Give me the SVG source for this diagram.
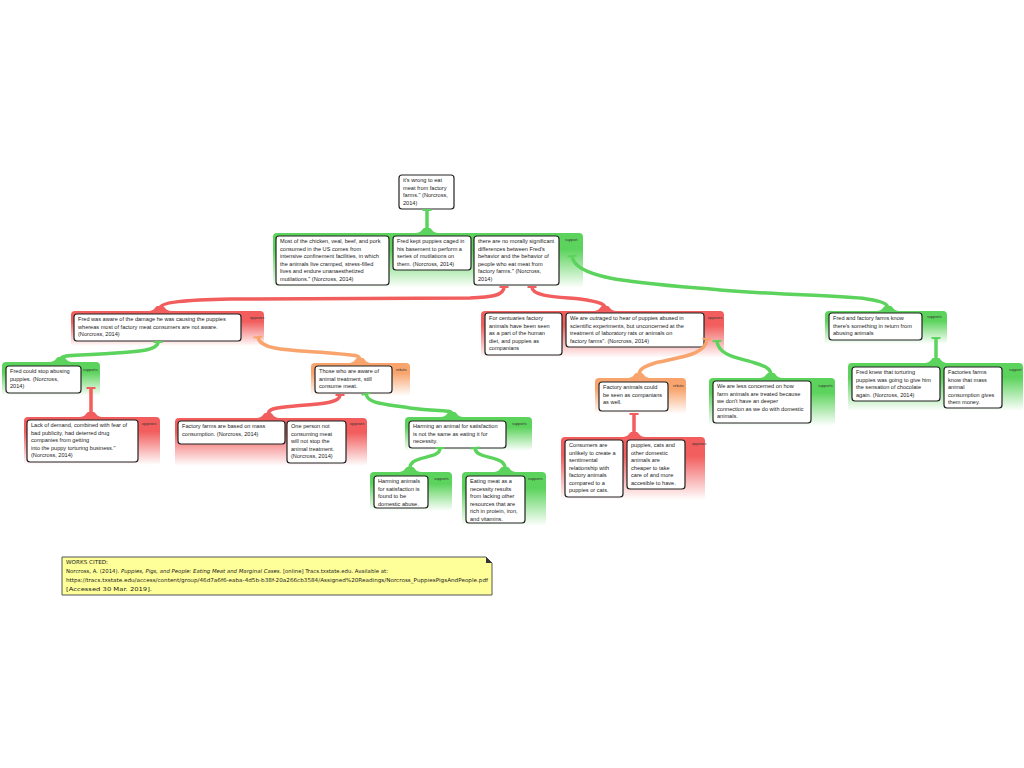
<svg xmlns="http://www.w3.org/2000/svg" width="1024" height="768" viewBox="0 0 1024 768">
<defs>
<linearGradient id="gG" x1="0" y1="0" x2="0" y2="1"><stop offset="0" stop-color="#5cd35c"/><stop offset="0.3" stop-color="#5cd35c"/><stop offset="1" stop-color="#ffffff"/></linearGradient>
<linearGradient id="gR" x1="0" y1="0" x2="0" y2="1"><stop offset="0" stop-color="#f25d5d"/><stop offset="0.3" stop-color="#f25d5d"/><stop offset="1" stop-color="#ffffff"/></linearGradient>
<linearGradient id="gO" x1="0" y1="0" x2="0" y2="1"><stop offset="0" stop-color="#f8a46c"/><stop offset="0.3" stop-color="#f8a46c"/><stop offset="1" stop-color="#ffffff"/></linearGradient>
<marker id="bG" markerUnits="userSpaceOnUse" markerWidth="12" markerHeight="12" refX="0" refY="0" viewBox="-6 -6 12 12" orient="auto"><path d="M0,-4.5 L0,4.5" stroke="#5cd35c" stroke-width="2"/></marker>
<marker id="bR" markerUnits="userSpaceOnUse" markerWidth="12" markerHeight="12" refX="0" refY="0" viewBox="-6 -6 12 12" orient="auto"><path d="M0,-4.5 L0,4.5" stroke="#f25d5d" stroke-width="2"/></marker>
<marker id="bO" markerUnits="userSpaceOnUse" markerWidth="12" markerHeight="12" refX="0" refY="0" viewBox="-6 -6 12 12" orient="auto"><path d="M0,-4.5 L0,4.5" stroke="#f8a46c" stroke-width="2"/></marker>
</defs>
<style>
.box{fill:#fff;stroke:#222;stroke-width:1.2}
.t{font-family:"Liberation Sans",Arial,sans-serif;font-size:5.6px;fill:#222}
.lbl{font-family:"Liberation Sans",Arial,sans-serif;font-size:3.8px;fill:#333}
.cG{fill:none;stroke:#5cd35c;stroke-width:3.5;marker-start:url(#bG)}
.cR{fill:none;stroke:#f25d5d;stroke-width:3.5;marker-start:url(#bR)}
.cO{fill:none;stroke:#f8a46c;stroke-width:3.5;marker-start:url(#bO)}
.tG{fill:#5cd35c}.tR{fill:#f25d5d}.tO{fill:#f8a46c}
.note{font-family:"DejaVu Sans",sans-serif;font-size:5.4px;fill:#222}
</style>
<rect width="1024" height="768" fill="#fff"/>

<g id="n0">
<rect class="box" x="399" y="175" width="55" height="34" rx="3"/>
<text class="t" x="403" y="182.3"><tspan x="403">it's wrong to eat</tspan><tspan x="403" dy="7.5">meat from factory</tspan><tspan x="403" dy="7.5">farms." (Norcross,</tspan><tspan x="403" dy="7.5">2014)</tspan></text>
</g>

<g id="g1">
<rect x="273" y="233" width="310" height="55" rx="4" fill="url(#gG)"/>
<path class="tG" d="M416 233 C421 233,422 229,424 228 L430 228 C432 229,433 233,438 233 Z"/>
<text class="lbl" x="565" y="241">support</text>
<rect class="box" x="276" y="236" width="113" height="49" rx="3"/>
<text class="t" x="280" y="243.3"><tspan x="280">Most of the chicken, veal, beef, and pork</tspan><tspan x="280" dy="7.5">consumed in the US comes from</tspan><tspan x="280" dy="7.5">intensive confinement facilities, in which</tspan><tspan x="280" dy="7.5">the animals live cramped, stress-filled</tspan><tspan x="280" dy="7.5">lives and endure unanaesthetized</tspan><tspan x="280" dy="7.5">mutilations." (Norcross, 2014)</tspan></text>
<rect class="box" x="393" y="236" width="78" height="34" rx="3"/>
<text class="t" x="397" y="243.3"><tspan x="397">Fred kept puppies caged in</tspan><tspan x="397" dy="7.5">his basement to perform a</tspan><tspan x="397" dy="7.5">series of mutilations on</tspan><tspan x="397" dy="7.5">them. (Norcross, 2014)</tspan></text>
<rect class="box" x="474" y="236" width="85" height="49" rx="3"/>
<text class="t" x="478" y="243.3"><tspan x="478">there are no morally significant</tspan><tspan x="478" dy="7.5">differences between Fred's</tspan><tspan x="478" dy="7.5">behavior and the behavior of</tspan><tspan x="478" dy="7.5">people who eat meat from</tspan><tspan x="478" dy="7.5">factory farms." (Norcross,</tspan><tspan x="478" dy="7.5">2014)</tspan></text>
</g>

<g id="g2">
<rect x="71" y="311" width="193" height="35" rx="4" fill="url(#gR)"/>
<path class="tR" d="M149 311 C154 311,155 307,157 306 L163 306 C165 307,166 311,171 311 Z"/>
<text class="lbl" x="250" y="319">opposes</text>
<rect class="box" x="74" y="314" width="167" height="27" rx="3"/>
<text class="t" x="78" y="321.3"><tspan x="78">Fred was aware of the damage he was causing the puppies</tspan><tspan x="78" dy="7.5">whereas most of factory meat consumers are not aware.</tspan><tspan x="78" dy="7.5">(Norcross, 2014)</tspan></text>
</g>

<g id="g3">
<rect x="481" y="311" width="243" height="47" rx="4" fill="url(#gR)"/>
<path class="tR" d="M594 311 C599 311,600 307,602 306 L608 306 C610 307,611 311,616 311 Z"/>
<text class="lbl" x="708" y="319">opposes</text>
<rect class="box" x="485" y="313" width="77" height="42" rx="3"/>
<text class="t" x="489" y="320.3"><tspan x="489">For centuaries factory</tspan><tspan x="489" dy="7.5">animals have been seen</tspan><tspan x="489" dy="7.5">as a part of the human</tspan><tspan x="489" dy="7.5">diet, and puppies as</tspan><tspan x="489" dy="7.5">companians</tspan></text>
<rect class="box" x="566" y="313" width="138" height="34" rx="3"/>
<text class="t" x="570" y="320.3"><tspan x="570">We are outraged to hear of puppies abused in</tspan><tspan x="570" dy="7.5">scientific experiments, but unconcerned at the</tspan><tspan x="570" dy="7.5">treatment of laboratory rats or animals on</tspan><tspan x="570" dy="7.5">factory farms". (Norcross, 2014)</tspan></text>
</g>

<g id="g4">
<rect x="825" y="311" width="122" height="33" rx="4" fill="url(#gG)"/>
<path class="tG" d="M877 311 C882 311,883 307,885 306 L891 306 C893 307,894 311,899 311 Z"/>
<text class="lbl" x="927" y="318">supports</text>
<rect class="box" x="829" y="313" width="93" height="27" rx="3"/>
<text class="t" x="833" y="320.3"><tspan x="833">Fred and factory farms know</tspan><tspan x="833" dy="7.5">there's something in return from</tspan><tspan x="833" dy="7.5">abusing animals</tspan></text>
</g>

<g id="g5">
<rect x="2" y="362" width="98" height="34" rx="4" fill="url(#gG)"/>
<path class="tG" d="M50 362 C55 362,56 358,58 357 L64 357 C66 358,67 362,72 362 Z"/>
<text class="lbl" x="83" y="371">supports</text>
<rect class="box" x="6" y="366" width="75" height="27" rx="3"/>
<text class="t" x="10" y="373.3"><tspan x="10">Fred could stop abusing</tspan><tspan x="10" dy="7.5">puppies. (Norcross,</tspan><tspan x="10" dy="7.5">2014)</tspan></text>
</g>

<g id="g6">
<rect x="24" y="417" width="136" height="48" rx="4" fill="url(#gR)"/>
<path class="tR" d="M80 417 C85 417,86 413,88 412 L94 412 C96 413,97 417,102 417 Z"/>
<text class="lbl" x="142" y="425">opposes</text>
<rect class="box" x="27" y="420" width="111" height="42" rx="3"/>
<text class="t" x="31" y="427.3"><tspan x="31">Lack of demand, combined with fear of</tspan><tspan x="31" dy="7.5">bad publicity, had deterred drug</tspan><tspan x="31" dy="7.5">companies from getting</tspan><tspan x="31" dy="7.5">into the puppy torturing business."</tspan><tspan x="31" dy="7.5">(Norcross, 2014)</tspan></text>
</g>

<g id="g7">
<rect x="311" y="363" width="99" height="33" rx="4" fill="url(#gO)"/>
<path class="tO" d="M349 363 C354 363,355 359,357 358 L363 358 C365 359,366 363,371 363 Z"/>
<text class="lbl" x="396" y="371">rebuts</text>
<rect class="box" x="315" y="366" width="77" height="27" rx="3"/>
<text class="t" x="319" y="373.3"><tspan x="319">Those who are aware of</tspan><tspan x="319" dy="7.5">animal treatment, still</tspan><tspan x="319" dy="7.5">consume meat.</tspan></text>
</g>

<g id="g8">
<rect x="175" y="418" width="192" height="48" rx="4" fill="url(#gR)"/>
<path class="tR" d="M257 418 C262 418,263 414,265 413 L271 413 C273 414,274 418,279 418 Z"/>
<text class="lbl" x="350" y="425">opposes</text>
<rect class="box" x="178" y="421" width="107" height="23" rx="3"/>
<text class="t" x="182" y="428.3"><tspan x="182">Factory farms are based on mass</tspan><tspan x="182" dy="7.5">consumption. (Norcross, 2014)</tspan></text>
<rect class="box" x="287" y="421" width="59" height="42" rx="3"/>
<text class="t" x="291" y="428.3"><tspan x="291">One person not</tspan><tspan x="291" dy="7.5">consuming meat</tspan><tspan x="291" dy="7.5">will not stop the</tspan><tspan x="291" dy="7.5">animal treatment.</tspan><tspan x="291" dy="7.5">(Norcross, 2014)</tspan></text>
</g>

<g id="g9">
<rect x="405" y="417" width="127" height="34" rx="4" fill="url(#gG)"/>
<path class="tG" d="M441 417 C446 417,447 413,449 412 L455 412 C457 413,458 417,463 417 Z"/>
<text class="lbl" x="512" y="425">supports</text>
<rect class="box" x="409" y="421" width="97" height="27" rx="3"/>
<text class="t" x="413" y="428.3"><tspan x="413">Harming an animal for satisfaction</tspan><tspan x="413" dy="7.5">is not the same as eating it for</tspan><tspan x="413" dy="7.5">necessity.</tspan></text>
</g>

<g id="g10">
<rect x="370" y="472" width="82" height="39" rx="4" fill="url(#gG)"/>
<path class="tG" d="M399 472 C404 472,405 468,407 467 L413 467 C415 468,416 472,421 472 Z"/>
<text class="lbl" x="434" y="480">supports</text>
<rect class="box" x="374" y="476" width="54" height="32" rx="3"/>
<text class="t" x="378" y="483.3"><tspan x="378">Harming animals</tspan><tspan x="378" dy="7.5">for satisfaction is</tspan><tspan x="378" dy="7.5">found to be</tspan><tspan x="378" dy="7.5">domestic abuse.</tspan></text>
</g>

<g id="g11">
<rect x="462" y="472" width="84" height="54" rx="4" fill="url(#gG)"/>
<path class="tG" d="M494 472 C499 472,500 468,502 467 L508 467 C510 468,511 472,516 472 Z"/>
<text class="lbl" x="528" y="480">supports</text>
<rect class="box" x="466" y="476" width="59" height="47" rx="3"/>
<text class="t" x="470" y="483.3"><tspan x="470">Eating meat as a</tspan><tspan x="470" dy="7.5">necessity results</tspan><tspan x="470" dy="7.5">from lacking other</tspan><tspan x="470" dy="7.5">resources that are</tspan><tspan x="470" dy="7.5">rich in protein, iron,</tspan><tspan x="470" dy="7.5">and vitamins.</tspan></text>
</g>

<g id="g12">
<rect x="595" y="378" width="91" height="36" rx="4" fill="url(#gO)"/>
<path class="tO" d="M628 378 C633 378,634 374,636 373 L642 373 C644 374,645 378,650 378 Z"/>
<text class="lbl" x="673" y="387">rebuts</text>
<rect class="box" x="599" y="382" width="69" height="29" rx="3"/>
<text class="t" x="603" y="389.3"><tspan x="603">Factory animals could</tspan><tspan x="603" dy="7.5">be seen as companians</tspan><tspan x="603" dy="7.5">as well.</tspan></text>
</g>

<g id="g13">
<rect x="709" y="378" width="126" height="48" rx="4" fill="url(#gG)"/>
<path class="tG" d="M760 378 C765 378,766 374,768 373 L774 373 C776 374,777 378,782 378 Z"/>
<text class="lbl" x="818" y="387">supports</text>
<rect class="box" x="713" y="381" width="98" height="42" rx="3"/>
<text class="t" x="717" y="388.3"><tspan x="717">We are less concerned on how</tspan><tspan x="717" dy="7.5">farm animals are treated because</tspan><tspan x="717" dy="7.5">we don't have an deeper</tspan><tspan x="717" dy="7.5">connection as we do with domestic</tspan><tspan x="717" dy="7.5">animals.</tspan></text>
</g>

<g id="g14">
<rect x="561" y="437" width="144" height="63" rx="4" fill="url(#gR)"/>
<path class="tR" d="M623 437 C628 437,629 433,631 432 L637 432 C639 433,640 437,645 437 Z"/>
<text class="lbl" x="692" y="445">opposes</text>
<rect class="box" x="565" y="440" width="58" height="57" rx="3"/>
<text class="t" x="569" y="447.3"><tspan x="569">Consumers are</tspan><tspan x="569" dy="7.5">unlikely to create a</tspan><tspan x="569" dy="7.5">sentimental</tspan><tspan x="569" dy="7.5">relationship with</tspan><tspan x="569" dy="7.5">factory animals</tspan><tspan x="569" dy="7.5">compared to a</tspan><tspan x="569" dy="7.5">puppies or cats.</tspan></text>
<rect class="box" x="627" y="440" width="58" height="49" rx="3"/>
<text class="t" x="631" y="447.3"><tspan x="631">puppies, cats and</tspan><tspan x="631" dy="7.5">other domestic</tspan><tspan x="631" dy="7.5">animals are</tspan><tspan x="631" dy="7.5">cheaper to take</tspan><tspan x="631" dy="7.5">care of and more</tspan><tspan x="631" dy="7.5">accesible to have.</tspan></text>
</g>

<g id="g15">
<rect x="848" y="363" width="175" height="48" rx="4" fill="url(#gG)"/>
<path class="tG" d="M925 363 C930 363,931 359,933 358 L939 358 C941 359,942 363,947 363 Z"/>
<text class="lbl" x="1009" y="371">support</text>
<rect class="box" x="852" y="367" width="88" height="34" rx="3"/>
<text class="t" x="856" y="374.3"><tspan x="856">Fred knew that torturing</tspan><tspan x="856" dy="7.5">puppies was going to give him</tspan><tspan x="856" dy="7.5">the sensation of chocolate</tspan><tspan x="856" dy="7.5">again. (Norcross, 2014)</tspan></text>
<rect class="box" x="944" y="367" width="58" height="41" rx="3"/>
<text class="t" x="948" y="374.3"><tspan x="948">Factories farms</tspan><tspan x="948" dy="7.5">know that mass</tspan><tspan x="948" dy="7.5">animal</tspan><tspan x="948" dy="7.5">consumption gives</tspan><tspan x="948" dy="7.5">them money.</tspan></text>
</g>

<g id="connectors">
<path class="cG" d="M427 210 L427 230"/>
<path class="cR" d="M504 287 C504 296,490 297,470 298 L230 299 C185 300,160 302,160 308"/>
<path class="cR" d="M532 287 C532 297,560 297,580 299 C600 302,605 304,605 308"/>
<path class="cG" d="M572 256 C575 280,640 283,720 290 C820 298,888 294,888 308"/>
<path class="cG" d="M158 342 C158 352,130 352,100 354 C70 356,61 355,61 359"/>
<path class="cO" d="M258 337 C260 352,300 350,330 353 C355 355,360 355,360 360"/>
<path class="cR" d="M91 388 L91 414"/>
<path class="cR" d="M340 395 C340 403,320 404,295 406 C272 408,268 409,268 415"/>
<path class="cG" d="M366 394 C368 404,385 404,410 408 C440 412,452 409,452 414"/>
<path class="cG" d="M440 448 C440 458,420 456,413 462 C410 465,410 466,410 469"/>
<path class="cG" d="M475 448 C476 458,495 456,502 462 C505 465,505 466,505 469"/>
<path class="cO" d="M707 339 C706 355,680 357,655 363 C642 367,639 370,639 375"/>
<path class="cG" d="M717 341 C718 356,740 358,755 363 C768 367,771 370,771 375"/>
<path class="cR" d="M634 414 L634 434"/>
<path class="cG" d="M936 338 L936 360"/>
</g>

<g id="note">
<path d="M62 557 L486 557 L492 563 L492 595 L62 595 Z" fill="#ffff99" stroke="#555" stroke-width="1"/>
<path d="M486 557 L492 563 L486 563 Z" fill="#333"/>
<text class="note" x="66" y="564" textLength="42" lengthAdjust="spacingAndGlyphs">WORKS CITED:</text>
<text class="note" x="66" y="573" textLength="322" lengthAdjust="spacingAndGlyphs">Norcross, A. (2014). <tspan font-style="italic">Puppies, Pigs, and People: Eating Meat and Marginal Cases.</tspan> [online] Tracs.txstate.edu. Available at:</text>
<text class="note" x="66" y="582" textLength="422" lengthAdjust="spacingAndGlyphs">https://tracs.txstate.edu/access/content/group/46d7a6f6-eaba-4d5b-b38f-20a266cb3584/Assigned%20Readings/Norcross_PuppiesPigsAndPeople.pdf</text>
<text class="note" x="66" y="591" textLength="86" lengthAdjust="spacingAndGlyphs">[Accessed 30 Mar. 2019].</text>
</g>
</svg>
